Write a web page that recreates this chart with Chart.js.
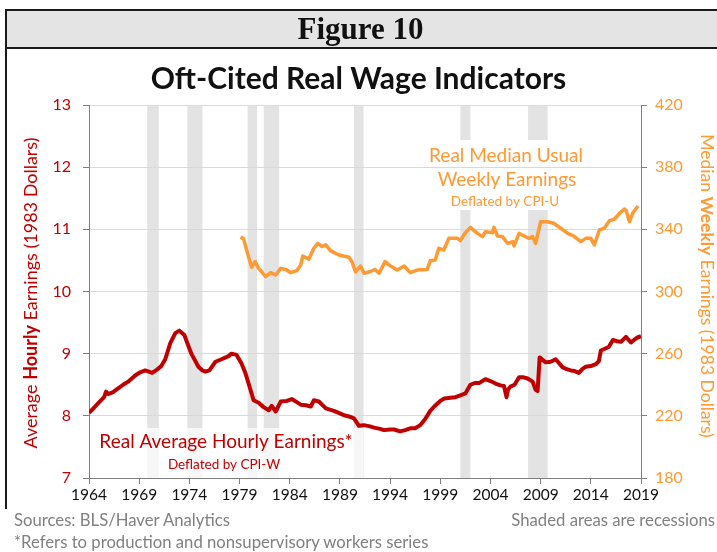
<!DOCTYPE html>
<html>
<head>
<meta charset="utf-8">
<script src="https://cdn.jsdelivr.net/npm/chart.js@4"></script>
<style>
  html, body { margin:0; padding:0; background:#fff; }
  #wrap { position:relative; width:717px; height:552px; overflow:hidden; font-family: Lato, "Open Sans", sans-serif; }
  #hdr { position:absolute; left:5px; top:9px; width:720px; height:36px; background:#e4e4e4; border-top:2px solid #1a1a1a; border-bottom:2px solid #1a1a1a; border-left:2px solid #1a1a1a; }
  #hdr span { position:absolute; width:717px; top:0px; text-align:center; font-family:"Liberation Serif", serif; font-weight:bold; font-size:31px; color:#111; left:-5px; }
  #vline { position:absolute; left:5px; top:9px; width:2px; height:500px; background:#1a1a1a; }
  #title { position:absolute; left:0; width:717px; top:59px; text-align:center; font-family: Lato, sans-serif; font-weight:bold; font-size:30px; color:#111; }
  .foot { position:absolute; font-size:16.7px; color:#808080; font-family: Lato, sans-serif; white-space:nowrap; }
  canvas { position:absolute; left:0; top:0; }
</style>
</head>
<body>
<div id="wrap">
  <canvas id="c" width="717" height="552"></canvas>
  <div id="vline"></div>
  <div id="hdr"><span>Figure 10</span></div>
  <div id="title">Oft-Cited Real Wage Indicators</div>
  <div class="foot" style="left:14px; top:510px;">Sources: BLS/Haver Analytics</div>
  <div class="foot" style="right:2px; top:510px;">Shaded areas are recessions</div>
  <div class="foot" style="left:14px; top:532px;">*Refers to production and nonsupervisory workers series</div>
</div>
<script>
// ---- Data ----
const hourlyYears = [1964.0,1964.5,1964.9,1965.5,1965.7,1965.9,1966.4,1966.9,1967.4,1967.9,1968.6,1969.1,1969.6,1970.3,1970.75,1971.2,1971.6,1972.1,1972.6,1973.0,1973.5,1973.75,1974.2,1974.6,1974.9,1975.3,1975.6,1976.0,1976.6,1977.2,1977.9,1978.2,1978.7,1979.2,1979.6,1979.9,1980.4,1980.9,1981.4,1981.9,1982.2,1982.6,1983.1,1983.7,1984.2,1984.7,1985.1,1985.6,1986.1,1986.4,1986.9,1987.6,1988.4,1989.0,1989.4,1989.9,1990.4,1990.9,1991.4,1992.0,1992.4,1993.0,1993.4,1994.0,1994.4,1995.0,1995.5,1996.0,1996.5,1997.0,1997.5,1998.0,1998.4,1999.0,1999.4,2000.0,2000.5,2001.0,2001.5,2002.0,2002.5,2002.9,2003.5,2004.0,2004.5,2005.0,2005.35,2005.6,2005.75,2006.0,2006.4,2006.85,2007.3,2007.7,2008.2,2008.5,2008.7,2008.9,2009.5,2010.0,2010.5,2011.2,2011.6,2012.0,2012.4,2012.8,2013.2,2013.5,2014.0,2014.5,2014.8,2015.0,2015.4,2015.8,2016.2,2016.6,2017.0,2017.5,2018.0,2018.3,2018.65,2019.0];
const hourlyValues = [8.05,8.13,8.20,8.30,8.39,8.35,8.38,8.44,8.50,8.55,8.65,8.70,8.73,8.69,8.74,8.80,8.91,9.17,9.33,9.37,9.30,9.19,9.00,8.88,8.79,8.73,8.71,8.73,8.87,8.91,8.96,9.00,8.98,8.84,8.68,8.52,8.25,8.21,8.14,8.09,8.16,8.07,8.23,8.24,8.27,8.22,8.18,8.17,8.15,8.25,8.23,8.12,8.08,8.04,8.01,7.99,7.96,7.84,7.85,7.83,7.81,7.79,7.77,7.78,7.78,7.75,7.77,7.80,7.80,7.85,7.95,8.08,8.15,8.24,8.28,8.29,8.30,8.33,8.36,8.50,8.53,8.53,8.59,8.56,8.52,8.49,8.48,8.30,8.42,8.47,8.50,8.62,8.62,8.60,8.55,8.42,8.40,8.94,8.86,8.87,8.91,8.78,8.75,8.73,8.72,8.69,8.76,8.79,8.80,8.83,8.88,9.05,9.08,9.11,9.22,9.20,9.19,9.27,9.18,9.22,9.26,9.28];

const weeklyYears = [1979.1,1979.4,1979.7,1980.2,1980.55,1980.9,1981.3,1981.6,1982.1,1982.6,1983.1,1983.6,1984.1,1984.7,1985.1,1985.3,1985.9,1986.4,1986.8,1987.2,1987.6,1988.05,1988.9,1989.9,1990.2,1990.55,1991.05,1991.4,1992.0,1992.5,1992.9,1993.5,1994.05,1994.7,1995.4,1996.0,1996.7,1997.7,1998.0,1998.5,1998.85,1999.35,1999.85,2000.7,2001.0,2001.5,2002.0,2002.7,2003.2,2003.5,2004.2,2004.35,2004.7,2005.2,2005.7,2006.2,2006.35,2006.85,2007.35,2007.85,2008.2,2008.5,2009.0,2009.7,2010.3,2011.0,2011.7,2012.3,2013.0,2013.5,2014.0,2014.35,2014.85,2015.35,2015.85,2016.35,2016.85,2017.35,2017.5,2017.85,2018.2,2018.7];
const weeklyValues = [335,334,326.7,315.6,319.2,314.9,312,309.5,312.1,310.6,314.9,314.2,312.1,313.4,317.1,322.9,320.7,327.8,331.0,328.9,330,326.3,323.5,322,319.2,312.7,316.4,311.7,312.7,314.2,311.7,319.2,316.4,313.8,316.4,312.1,313.8,314.2,319.8,320.3,327.8,326.7,334.2,334.2,332.7,337.8,341.3,337.4,335.3,338.5,337.8,341.3,335.7,335.3,331.0,332.1,329.3,337.4,335.7,334.2,335.3,331.0,344.9,344.9,343.9,340.7,337.4,335.7,332.1,334.2,334.2,329.9,339.6,340.7,345.6,346.5,350.3,353.1,352.4,344.9,350.7,355.0];

const recessionStart = [1969.8, 1973.8, 1979.8, 1981.4, 1990.4, 2001.0, 2007.75];
const recessionEnd   = [1970.95, 1975.3, 1980.75, 1982.95, 1991.35, 2002.0, 2009.7];

const xTicks = [1964,1969,1974,1979,1984,1989,1994,1999,2004,2009,2014,2019];
const leftTicks = [7,8,9,10,11,12,13];
const rightTicks = [180,220,260,300,340,380,420];

const RED = '#c00000';
const ORANGE = '#ff9933';
const FONT = 'Lato, "Open Sans", sans-serif';

const hourlyData = hourlyYears.map((x,i)=>({x, y: hourlyValues[i]}));
const weeklyData = weeklyYears.map((x,i)=>({x, y: weeklyValues[i]}));

const bandsPlugin = {
  id:'bands',
  beforeDraw(chart){
    const {ctx, chartArea:a, scales:{x}} = chart;
    ctx.save();
    ctx.fillStyle = '#e3e3e3';
    recessionStart.forEach((s,i)=>{
      const x0 = x.getPixelForValue(s), x1 = x.getPixelForValue(recessionEnd[i]);
      ctx.fillRect(x0, a.top, x1-x0, a.bottom-a.top);
    });
    // white label boxes over the shading
    ctx.fillStyle = 'rgba(255,255,255,0.7)';
    ctx.fillRect(95, 428, 268, a.bottom-428);
    ctx.fillStyle = 'rgba(255,255,255,1)';
    ctx.fillRect(418, 140, 178, 70);
    ctx.restore();
  },
  afterDraw(chart){
    const ctx = chart.ctx;
    ctx.save();
    ctx.textBaseline = 'middle';
    ctx.textAlign = 'center';
    // annotations
    ctx.fillStyle = ORANGE;
    ctx.font = '19px ' + FONT;
    ctx.fillText('Real Median Usual', 506, 156);
    ctx.fillText('Weekly Earnings', 507, 180);
    ctx.font = '13.5px ' + FONT;
    ctx.fillText('Deflated by CPI-U', 505, 202);
    ctx.fillStyle = RED;
    ctx.font = '19px ' + FONT;
    ctx.fillText('Real Average Hourly Earnings*', 226, 442);
    ctx.font = '13.5px ' + FONT;
    ctx.fillText('Deflated by CPI-W', 224, 465);
    // axis titles with mixed weight
    const drawMixed = (parts, cx, cy, rot, color, size) => {
      ctx.save();
      ctx.translate(cx, cy);
      ctx.rotate(rot);
      ctx.fillStyle = color;
      ctx.textAlign = 'left';
      let total = 0;
      parts.forEach(p=>{ ctx.font = (p.b?'bold ':'') + size + 'px ' + FONT; total += ctx.measureText(p.t).width; });
      let xx = -total/2;
      parts.forEach(p=>{ ctx.font = (p.b?'bold ':'') + size + 'px ' + FONT; ctx.fillText(p.t, xx, 0); xx += ctx.measureText(p.t).width; });
      ctx.restore();
    };
    drawMixed([{t:'Average '},{t:'Hourly',b:true},{t:' Earnings (1983 Dollars)'}], 31, 293, -Math.PI/2, RED, 18);
    drawMixed([{t:'Median '},{t:'Weekly',b:true},{t:' Earnings (1983 Dollars)'}], 707, 286, Math.PI/2, ORANGE, 17.5);
    ctx.restore();
  }
};

new Chart(document.getElementById('c'), {
  type:'line',
  data:{
    datasets:[
      { label:'Real Average Hourly Earnings', data:hourlyData, yAxisID:'y', borderColor:RED, borderWidth:4, pointRadius:0, tension:0, borderJoinStyle:'round' },
      { label:'Real Median Usual Weekly Earnings', data:weeklyData, yAxisID:'y2', borderColor:ORANGE, borderWidth:3.5, pointRadius:0, tension:0, borderJoinStyle:'round' }
    ]
  },
  options:{
    responsive:false,
    animation:false,
    layout:{ padding:{ top:105, left:0, right:0, bottom:0 } },
    plugins:{ legend:{display:false}, tooltip:{enabled:false}, title:{display:false} },
    scales:{
      x:{
        type:'linear', min:1964, max:2019,
        afterBuildTicks(axis){ axis.ticks = xTicks.map(v=>({value:v})); },
        afterFit(axis){ axis.height = 74; },
        grid:{ drawOnChartArea:false, drawTicks:true, tickLength:6, tickColor:'#7f7f7f' },
        border:{ color:'#7f7f7f', width:1 },
        ticks:{ color:'#111', font:{ family:FONT, size:15.5 }, padding:2, maxRotation:0, callback:v=>String(v) }
      },
      y:{
        position:'left', min:7, max:13,
        afterBuildTicks(axis){ axis.ticks = leftTicks.map(v=>({value:v})); },
        afterFit(axis){ axis.width = 89; },
        grid:{ color:'#d9d9d9', drawTicks:true, tickLength:6, tickColor:'#7f7f7f' },
        border:{ color:'#7f7f7f', width:1 },
        ticks:{ color:RED, font:{ family:FONT, size:16 }, padding:12 }
      },
      y2:{
        position:'right', min:180, max:420,
        afterBuildTicks(axis){ axis.ticks = rightTicks.map(v=>({value:v})); },
        afterFit(axis){ axis.width = 76; },
        grid:{ drawOnChartArea:false, drawTicks:true, tickLength:6, tickColor:'#7f7f7f' },
        border:{ color:'#7f7f7f', width:1 },
        ticks:{ color:ORANGE, font:{ family:FONT, size:16 }, padding:8 }
      }
    }
  },
  plugins:[bandsPlugin]
});
</script>
</body>
</html>
